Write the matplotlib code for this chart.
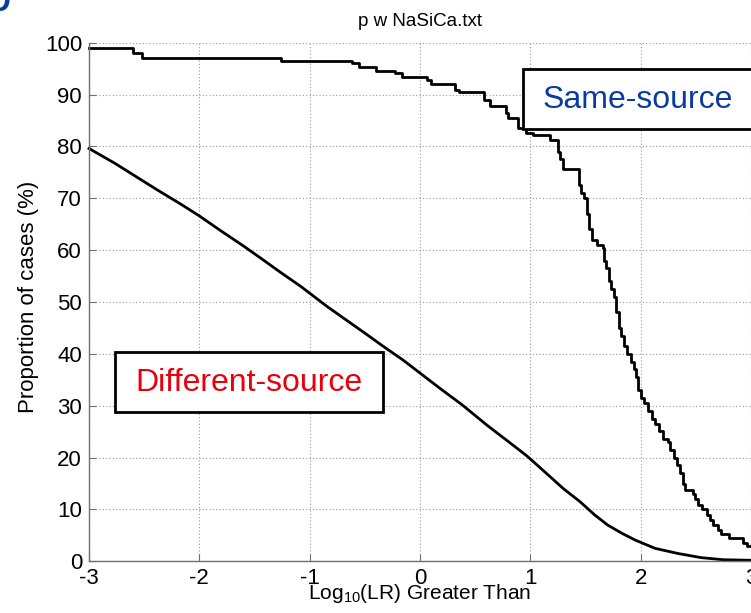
import numpy as np
import matplotlib
matplotlib.use('Agg')
import matplotlib.pyplot as plt
from matplotlib.patches import Rectangle

plt.rcParams['font.family'] = ['Liberation Sans', 'DejaVu Sans']
plt.rcParams['mathtext.default'] = 'regular'
plt.rcParams['axes.unicode_minus'] = False

# same-source: step levels (x where the level starts, proportion %)
same_x = [-3.00, -2.60, -2.52, -1.26, -0.62, -0.55, -0.40, -0.23, -0.16, 0.06,
          0.10, 0.32, 0.35, 0.58, 0.63, 0.78, 0.80, 0.89, 0.96, 1.02,
          1.18, 1.25, 1.27, 1.30, 1.44, 1.46, 1.49, 1.51, 1.53, 1.56,
          1.60, 1.66, 1.67, 1.69, 1.71, 1.73, 1.76, 1.78, 1.80, 1.82,
          1.85, 1.88, 1.91, 1.94, 1.96, 1.98, 2.00, 2.03, 2.07, 2.10,
          2.13, 2.17, 2.20, 2.25, 2.27, 2.30, 2.33, 2.36, 2.38, 2.40,
          2.47, 2.49, 2.52, 2.56, 2.60, 2.63, 2.66, 2.70, 2.73, 2.80,
          2.93, 2.96, 3.00]
same_y = [98.9, 98.0, 97.1, 96.5, 96.0, 95.4, 94.6, 94.1, 93.4, 92.8,
          92.0, 90.9, 90.4, 89.0, 87.7, 86.5, 85.5, 83.6, 82.6, 82.2,
          81.2, 79.0, 77.5, 75.6, 72.5, 71.0, 70.0, 67.0, 64.0, 62.0,
          61.0, 60.5, 58.0, 56.5, 54.0, 52.5, 51.0, 48.0, 45.0, 43.5,
          41.5, 40.0, 38.5, 37.0, 35.5, 33.0, 31.5, 30.5, 29.0, 27.5,
          26.5, 25.2, 23.5, 23.0, 21.5, 20.0, 18.5, 17.0, 15.0, 13.7,
          13.0, 12.0, 10.8, 10.0, 9.0, 8.0, 7.0, 6.0, 5.2, 4.4,
          3.6, 3.0, 3.0]

# different-source curve
diff_x = [-3.00, -2.77, -2.59, -2.38, -2.17, -2.00, -1.81, -1.60, -1.42, -1.27,
          -1.08, -1.00, -0.84, -0.66, -0.48, -0.33, -0.16, 0.00, 0.19, 0.38,
          0.61, 0.80, 0.97, 1.18, 1.30, 1.45, 1.58, 1.70, 1.83, 1.95,
          2.13, 2.34, 2.55, 2.75, 3.00]
diff_y = [79.6, 76.8, 74.4, 71.6, 68.9, 66.6, 63.8, 60.8, 58.1, 55.8,
          53.0, 51.7, 49.1, 46.4, 43.7, 41.4, 38.9, 36.3, 33.2, 30.2,
          26.2, 23.1, 20.3, 16.3, 14.0, 11.5, 9.0, 7.0, 5.4, 4.1,
          2.5, 1.5, 0.7, 0.3, 0.2]

x_ticks = [-3, -2, -1, 0, 1, 2, 3]
y_ticks = list(range(0, 101, 10))

fig = plt.figure(figsize=(7.51, 6.13), dpi=100)
ax = fig.add_axes([89 / 751, 51.7 / 613, 662 / 751, 518.6 / 613])

ax.plot(same_x, same_y, color='black', lw=2, drawstyle='steps-post', clip_on=False)
ax.plot(diff_x, diff_y, color='black', lw=2, clip_on=False)

ax.set_xlim(-3, 3)
ax.set_ylim(0, 100)
ax.set_xticks(x_ticks)
ax.set_yticks(y_ticks)
ax.grid(True, color='#9a9a9a', linestyle=(0, (1, 2)), lw=0.8)
ax.set_axisbelow(True)

for s in ['top', 'right']:
    ax.spines[s].set_visible(False)
for s in ['left', 'bottom']:
    ax.spines[s].set_color('#707070')
    ax.spines[s].set_linewidth(1)
ax.tick_params(direction='in', length=5, color='#707070', labelsize=16)
ax.tick_params(axis='y', pad=5)
ax.tick_params(axis='x', pad=5)

ax.set_title('p w NaSiCa.txt', fontsize=13.5, pad=12)
ax.set_xlabel('Log$_{10}$(LR) Greater Than', fontsize=15)
ax.xaxis.set_label_coords(0.5, -0.04)
ax.set_ylabel('Proportion of cases (%)', fontsize=16)
ax.yaxis.label.set_va('center')
ax.yaxis.set_label_coords(-0.092, 0.51)

# labelled boxes
ax.add_patch(Rectangle((0.932, 83.3), 2.2, 11.6, fill=True, facecolor='white',
                       edgecolor='black', lw=2, clip_on=False, zorder=5))
ax.text(1.976, 89.0, 'Same-source', color='#0a3ca0', fontsize=23,
        ha='center', va='center', zorder=6)
ax.add_patch(Rectangle((-2.764, 28.85), 2.427, 11.45, fill=True, facecolor='white',
                       edgecolor='black', lw=2, clip_on=False, zorder=5))
ax.text(-1.554, 34.4, 'Different-source', color='#e8000b', fontsize=23,
        ha='center', va='center', zorder=6)

# cut-off panel letter
fig.text(-0.022, 1 - 11 / 613, 'b', color='#0a3ca0', fontsize=36, va='baseline')

fig.savefig('out.png', dpi=100)
